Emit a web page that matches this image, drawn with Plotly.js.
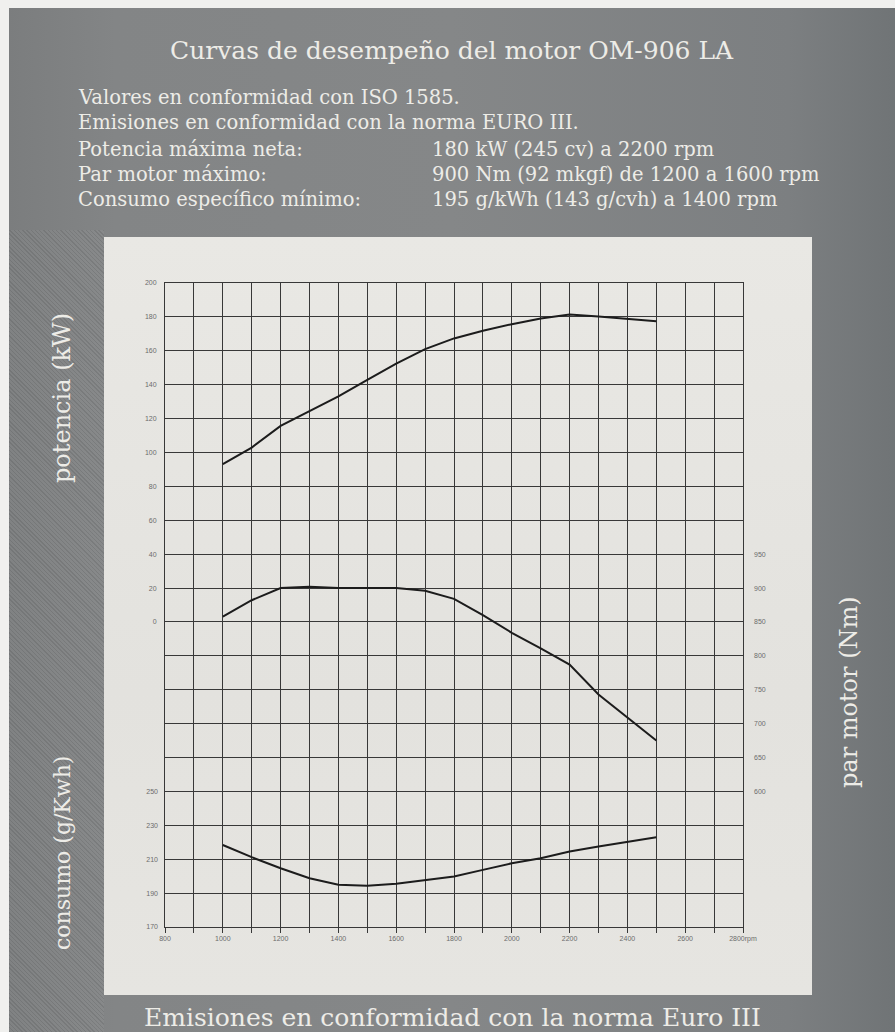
<!DOCTYPE html>
<html>
<head>
<meta charset="utf-8">
<script src="https://cdn.plot.ly/plotly-3.0.1.min.js"></script>
<style>
  html, body { margin:0; padding:0; width:895px; height:1032px; overflow:hidden; }
  body { background:#f0f0ee; position:relative; }
  #bg { position:absolute; left:9px; top:8px; width:886px; height:1024px;
        background: linear-gradient(90deg, #7b7d7e 0%, #838586 12%, #858788 50%, #7c7f81 88%, #707476 100%); }
  #hatch { position:absolute; left:9px; top:230px; width:95px; height:802px;
        background: repeating-linear-gradient(45deg, rgba(0,0,0,0.06) 0px, rgba(0,0,0,0.06) 1px, rgba(255,255,255,0.04) 1px, rgba(255,255,255,0.04) 3px); }
  #panel { position:absolute; left:104px; top:237px; width:708px; height:758px;
        background: linear-gradient(180deg, #e9e8e4 0%, #e3e2de 60%, #e6e5e1 100%); }
  #chart { position:absolute; left:0; top:0; width:895px; height:1032px; }
</style>
</head>
<body>
<div id="bg"></div>
<div id="hatch"></div>
<div id="panel"></div>
<div id="chart"></div>
<script>
// ---- data ----
const rpm = [1000,1100,1200,1300,1400,1500,1600,1700,1800,1900,2000,2100,2200,2300,2400,2500];
const potenciaKW = [93.1,102.9,115.7,124.5,133.1,142.9,152.4,161.0,167.3,171.8,175.7,179.0,181.4,180.2,178.8,177.5];
const parMotorNm = [858,882,900,902,900,900,900,896,884,860,834,811,787,743,709,675];
const consumoGkWh = [218.4,211.2,204.7,198.8,194.9,194.3,195.5,197.5,199.8,203.7,207.6,210.6,214.5,217.5,220.4,222.9];

const xTickVals = [800,900,1000,1100,1200,1300,1400,1500,1600,1700,1800,1900,2000,2100,2200,2300,2400,2500,2600,2700,2800];
const xTickText = ['800','','1000','','1200','','1400','','1600','','1800','','2000','','2200','','2400','','2600','','2800rpm'];
const powerGridVals = [-180,-160,-140,-120,-100,-80,-60,-40,-20,0,20,40,60,80,100,120,140,160,180,200];
const powerGridText = ['','','','','','','','','','0','20','40','60','80','100','120','140','160','180','200'];
const torqueTicks = [600,650,700,750,800,850,900,950];
const consumoTicks = [170,190,210,230,250];

const titleText = 'Curvas de desempeño del motor OM-906 LA';
const infoLeft = ['Valores en conformidad con ISO 1585.','Emisiones en conformidad con la norma EURO III.','Potencia máxima neta:','Par motor máximo:','Consumo específico mínimo:'];
const infoRight = ['','','180 kW (245 cv) a 2200 rpm','900 Nm (92 mkgf) de 1200 a 1600 rpm','195 g/kWh (143 g/cvh) a 1400 rpm'];
const footerText = 'Emisiones en conformidad con la norma Euro III';

// ---- layout helpers (pixel -> paper coords of plot area) ----
const L = 165, R = 743, T = 283, B = 927;
const px = X => (X - L) / (R - L);
const py = Y => (B - Y) / (B - T);

const lineC = '#1c1c1c';
const gridC = '#383838';
const tickFont = {family:'Liberation Sans, Arial', size:7, color:'#6c6c6c'};
const serif = 'DejaVu Serif, serif';
const white = '#edece7';

const traces = [
  {x: rpm, y: potenciaKW, xaxis:'x', yaxis:'y', mode:'lines', line:{color:lineC, width:2}, hoverinfo:'skip'},
  {x: rpm, y: parMotorNm, xaxis:'x', yaxis:'y2', mode:'lines', line:{color:lineC, width:2}, hoverinfo:'skip'},
  {x: rpm, y: consumoGkWh, xaxis:'x', yaxis:'y3', mode:'lines', line:{color:lineC, width:2}, hoverinfo:'skip'}
];

const annotations = [];
annotations.push({text:titleText, xref:'paper', yref:'paper', x:px(452), y:py(50), xanchor:'center', yanchor:'middle', showarrow:false,
  font:{family:serif, size:25, color:white}});
const lineY = [98,123,149,174,199];
infoLeft.forEach((t,i)=>{
  annotations.push({text:t, xref:'paper', yref:'paper', x:px(76), y:py(lineY[i]), xanchor:'left', yanchor:'middle', showarrow:false,
    font:{family:serif, size:19.5, color:white}});
  if (infoRight[i]) annotations.push({text:infoRight[i], xref:'paper', yref:'paper', x:px(430), y:py(lineY[i]), xanchor:'left', yanchor:'middle', showarrow:false,
    font:{family:serif, size:19.5, color:white}});
});
annotations.push({text:'potencia (kW)', xref:'paper', yref:'paper', x:px(62), y:py(398), xanchor:'center', yanchor:'middle', textangle:-90, showarrow:false,
  font:{family:serif, size:24, color:white}});
annotations.push({text:'consumo (g/Kwh)', xref:'paper', yref:'paper', x:px(62), y:py(853), xanchor:'center', yanchor:'middle', textangle:-90, showarrow:false,
  font:{family:serif, size:22, color:white}});
annotations.push({text:'par motor (Nm)', xref:'paper', yref:'paper', x:px(849), y:py(692), xanchor:'center', yanchor:'middle', textangle:-90, showarrow:false,
  font:{family:serif, size:24, color:white}});
annotations.push({text:footerText, xref:'paper', yref:'paper', x:px(452), y:py(1017), xanchor:'center', yanchor:'middle', showarrow:false,
  font:{family:serif, size:25, color:white}});

const layout = {
  width:895, height:1032,
  margin:{l:L, r:895-R, t:T, b:1032-B, pad:0},
  paper_bgcolor:'rgba(0,0,0,0)', plot_bgcolor:'rgba(0,0,0,0)',
  showlegend:false,
  xaxis:{range:[800,2800], tickmode:'array', tickvals:xTickVals, ticktext:xTickText, showgrid:true, gridcolor:gridC, gridwidth:1,
    ticks:'outside', ticklen:5, tickcolor:gridC, showline:true, mirror:true, linecolor:gridC, linewidth:1, zeroline:false,
    tickfont:tickFont, fixedrange:true},
  yaxis:{range:[-180,200], tickmode:'array', tickvals:powerGridVals, ticktext:powerGridText, showgrid:true, gridcolor:gridC, gridwidth:1,
    ticks:'', showline:true, mirror:true, linecolor:gridC, linewidth:1, zeroline:false, tickfont:tickFont, fixedrange:true, ticklabelstandoff:6},
  yaxis2:{range:[400,1350], overlaying:'y', side:'right', tickmode:'array', tickvals:torqueTicks, showgrid:false, zeroline:false,
    ticks:'', showline:false, tickfont:tickFont, fixedrange:true, ticklabelstandoff:10},
  yaxis3:{range:[170,550], overlaying:'y', side:'left', tickmode:'array', tickvals:consumoTicks, showgrid:false, zeroline:false,
    ticks:'', showline:false, tickfont:tickFont, fixedrange:true, ticklabelstandoff:6},
  annotations: annotations
};

Plotly.newPlot('chart', traces, layout, {displayModeBar:false, staticPlot:true});
</script>
</body>
</html>
